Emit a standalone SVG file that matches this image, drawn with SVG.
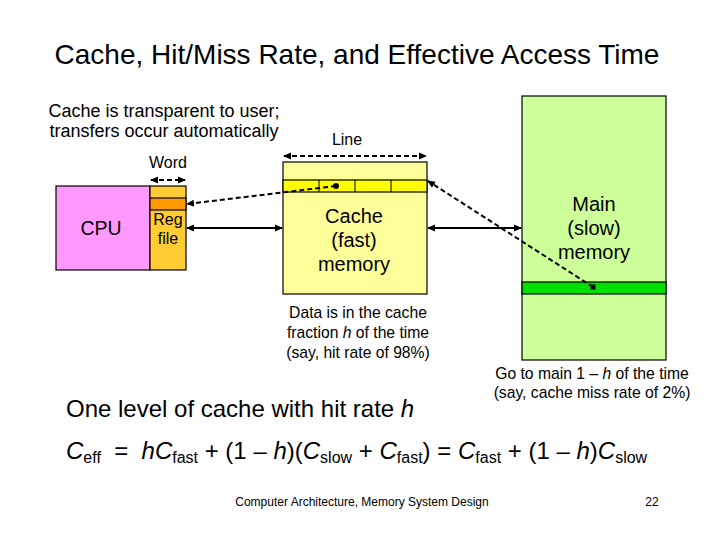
<svg xmlns="http://www.w3.org/2000/svg" width="720" height="540" viewBox="0 0 720 540">
<style>
text{font-family:"Liberation Sans",Arial,sans-serif;fill:#000}
.box{stroke:#000;stroke-width:1.2}
.dash{stroke:#000;stroke-width:2;stroke-dasharray:5,3;fill:none}
.solid{stroke:#000;stroke-width:2;fill:none}
.c{text-anchor:middle}
.i{font-style:italic}
.lbl{font-size:20px}
.sm{font-size:15.7px}
</style>
<defs>
<marker id="ah" markerWidth="8" markerHeight="8" refX="7" refY="4" orient="auto-start-reverse" markerUnits="userSpaceOnUse"><path d="M0,0.5 L8,4 L0,7.5 Z" fill="#000"/></marker>
</defs>
<rect width="720" height="540" fill="#fff"/>
<text x="357" y="64" class="c" font-size="28">Cache, Hit/Miss Rate, and Effective Access Time</text>
<text x="164" y="117" class="c" font-size="18">Cache is transparent to user;</text>
<text x="164" y="137" class="c" font-size="18">transfers occur automatically</text>

<g id="main">
<rect x="522" y="96" width="144" height="264" fill="#CCFF99" class="box"/>
<rect x="522" y="282" width="144" height="12" fill="#00E000" class="box"/>
<text x="594" y="211" class="c lbl">Main</text>
<text x="594" y="235" class="c lbl">(slow)</text>
<text x="594" y="259" class="c lbl">memory</text>
</g>

<g id="cache">
<rect x="283" y="162" width="144" height="132" fill="#FFFF99" class="box"/>
<rect x="283" y="180" width="144" height="12" fill="#FFFF00" class="box"/>
<line x1="319" y1="180" x2="319" y2="192" stroke="#000"/>
<line x1="355" y1="180" x2="355" y2="192" stroke="#000"/>
<line x1="391" y1="180" x2="391" y2="192" stroke="#000"/>
<text x="354" y="223" class="c lbl">Cache</text>
<text x="354" y="247" class="c lbl">(fast)</text>
<text x="354" y="271" class="c lbl">memory</text>
</g>

<g id="cpu">
<rect x="56" y="186" width="94" height="84" fill="#FF99FF" class="box"/>
<text x="101" y="235" class="c" font-size="19.5">CPU</text>
</g>

<g id="regfile">
<rect x="150" y="186" width="36" height="84" fill="#FFCC33" class="box"/>
<rect x="150" y="198" width="36" height="12" fill="#FF9900" class="box"/>
<text x="168" y="225" class="c" font-size="16" fill="#333">Reg</text>
<text x="168" y="244" class="c" font-size="16" fill="#333">file</text>
</g>

<g id="connectors">
<line x1="151" y1="180" x2="185" y2="180" class="dash" marker-start="url(#ah)" marker-end="url(#ah)"/>
<line x1="284" y1="156" x2="426" y2="156" class="dash" marker-start="url(#ah)" marker-end="url(#ah)"/>
<line x1="336" y1="186" x2="187" y2="204" class="dash" marker-end="url(#ah)"/>
<circle cx="336" cy="186" r="3" fill="#000"/>
<line x1="593" y1="287" x2="428" y2="181" class="dash" marker-end="url(#ah)"/>
<rect x="590.5" y="284.5" width="5" height="5" fill="#000"/>
<line x1="187" y1="228" x2="282" y2="228" class="solid" marker-start="url(#ah)" marker-end="url(#ah)"/>
<line x1="428" y1="228" x2="521" y2="228" class="solid" marker-start="url(#ah)" marker-end="url(#ah)"/>
</g>

<text x="168" y="168" class="c" font-size="16" fill="#222">Word</text>
<text x="347" y="145" class="c" font-size="16" fill="#222">Line</text>
<text x="358" y="318" class="c sm" fill="#222">Data is in the cache</text>
<text x="358" y="338" class="c sm" fill="#222">fraction <tspan class="i">h</tspan> of the time</text>
<text x="358" y="358" class="c sm" fill="#222">(say, hit rate of 98%)</text>
<text x="592" y="379" class="c sm" fill="#222">Go to main 1 – <tspan class="i">h</tspan> of the time</text>
<text x="592" y="398" class="c sm" fill="#222">(say, cache miss rate of 2%)</text>
<text x="66" y="417" font-size="24">One level of cache with hit rate <tspan class="i">h</tspan></text>
<text x="66" y="459" font-size="24"><tspan class="i">C</tspan><tspan font-size="16" dy="4">eff</tspan><tspan dy="-4" xml:space="preserve">  =  </tspan><tspan class="i">hC</tspan><tspan font-size="16" dy="4">fast</tspan><tspan dy="-4"> + (1 – </tspan><tspan class="i">h</tspan><tspan>)(</tspan><tspan class="i">C</tspan><tspan font-size="16" dy="4">slow</tspan><tspan dy="-4"> + </tspan><tspan class="i">C</tspan><tspan font-size="16" dy="4">fast</tspan><tspan dy="-4">) = </tspan><tspan class="i">C</tspan><tspan font-size="16" dy="4">fast</tspan><tspan dy="-4"> + (1 – </tspan><tspan class="i">h</tspan><tspan>)</tspan><tspan class="i">C</tspan><tspan font-size="16" dy="4">slow</tspan></text>
<text x="362" y="506" class="c" font-size="12">Computer Architecture, Memory System Design</text>
<text x="652" y="506" class="c" font-size="12">22</text>
</svg>
